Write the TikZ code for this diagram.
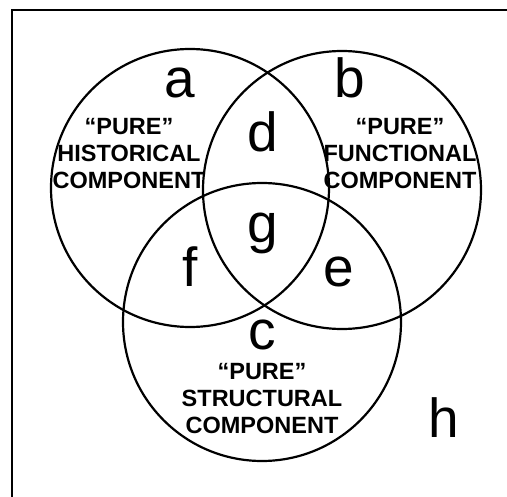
\documentclass[tikz,border=0pt]{standalone}
\usepackage{fontspec}
\setmainfont{Liberation Sans}
\usepackage{tikz}
\usetikzlibrary{positioning}

\begin{document}
\begin{tikzpicture}[x=1pt,y=-1pt,line width=2.2pt,
    set/.style={draw,circle,minimum size=278pt,inner sep=0pt},
    region/.style={inner sep=0pt,anchor=base,font=\fontsize{55}{60}\selectfont},
    component/.style={inner sep=0pt,align=center,anchor=base,font=\bfseries\fontsize{23.5}{27}\selectfont}]
      \useasboundingbox (0,0) rectangle (507,497);
      \clip (0,0) rectangle (507,497);
      \coordinate (framebottom) at (12,520);
      \coordinate (frameright) at (530,10);
      \draw (framebottom) |- (frameright);

      \node[set] (hist) at (190,188) {};
      \node[set] (func) at (342,190) {};
      \node[set] (struct) at (262,322) {};

      \node[region] (a) at (180,98) {a};
      \node[region] (b) at (350,98) {b};
      \node[region] (c) at (262,350) {c};
      \node[region] (d) at (263,152) {d};
      \node[region] (e) at (339,287) {e};
      \node[region] (f) at (190,287) {f};
      \node[region] (g) at (263,243) {g};
      \node[region] (h) at (444,438) {h};

      \node[component] (histtext) at (129,189) {“PURE”\\HISTORICAL\\COMPONENT};
      \node[component] (functext) at (400,189) {“PURE”\\FUNCTIONAL\\COMPONENT};
      \node[component] (structtext) at (262,434) {“PURE”\\STRUCTURAL\\COMPONENT};
    \end{tikzpicture}
\end{document}
